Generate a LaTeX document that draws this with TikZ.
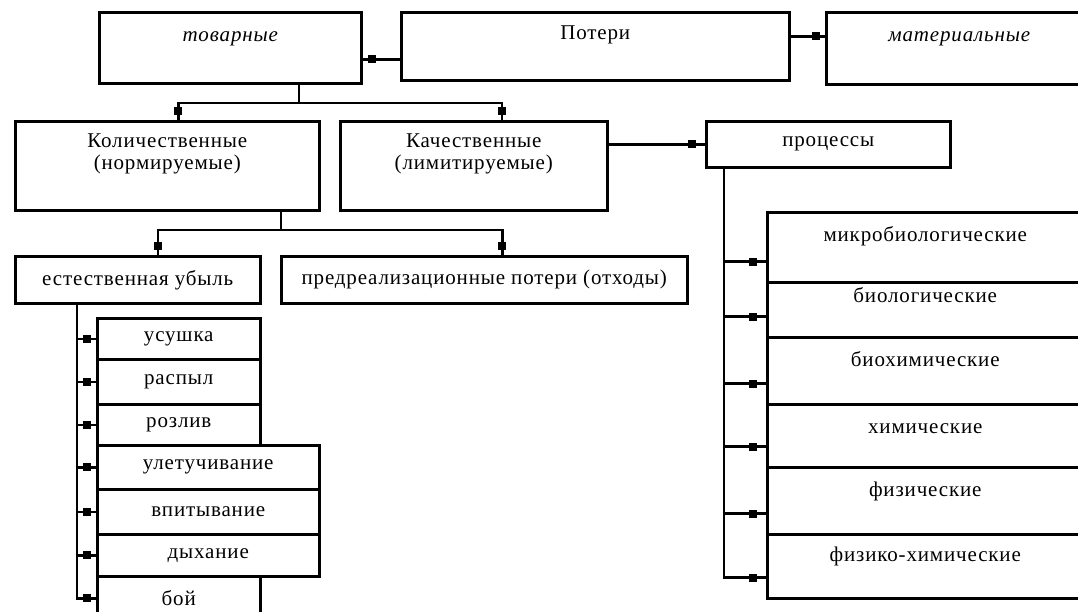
\documentclass[tikz,border=0pt]{standalone}
\usepackage{fontspec}
\setmainfont[LetterSpace=4]{Liberation Serif}
\usetikzlibrary{decorations.markings}

\begin{document}
\begin{tikzpicture}[x=1pt, y=-1pt, line width=2.5pt,
  box/.style={draw, anchor=north west, inner sep=0pt, align=center,
              font=\fontsize{21}{22}\selectfont},
  conn/.style={postaction={decorate}, decoration={markings,
              mark=at position -#1 with {\fill (-4pt,-4pt) rectangle (4pt,4pt);}}},
  conn/.default=9pt]
  % page = the scan, 1px = 1pt
  \useasboundingbox (0,0) rectangle (1078,611);

  % ---------- top row
  \node[box, minimum width=262pt, text height=29pt, text depth=42pt] (tov) at (98,11)  {\itshape товарные};
  \node[box, minimum width=388pt, text height=27pt, text depth=41pt] (pot) at (400,11) {Потери};
  \node[box, minimum width=266pt, text height=29pt, text depth=43pt] (mat) at (825,11) {\itshape материальные};

  % ---------- second row (two lines: height counts to the last baseline)
  \node[box, minimum width=304pt, text height=48pt, text depth=41pt] (kol)  at (14,120)  {Количественные\\(нормируемые)};
  \node[box, minimum width=267pt, text height=48pt, text depth=41pt] (kach) at (339,120) {Качественные\\(лимитируемые)};
  \node[box, minimum width=244pt, minimum height=46pt] (proc) at (705,120) {процессы};

  % ---------- third row
  \node[box, minimum width=245pt, minimum height=47pt] (est)  at (14,255)  {естественная убыль};
  \node[box, minimum width=406pt, minimum height=47pt] (pred) at (280,255) {предреализационные потери (отходы)};

  % ---------- kinds of natural loss (left column)
  \foreach \n/\y/\w/\h/\t in {usush/317/163/41/усушка, raspyl/358/163/45/распыл,
      rozliv/403/163/41/розлив, uletuch/444/222/44/улетучивание,
      vpit/488/222/45/впитывание, dyh/533/222/42/дыхание, boy/575/163/44/бой}
    \node[box, minimum width=\w pt, minimum height=\h pt] (\n) at (96,\y) {\t};

  % ---------- processes (right column, runs off the page)
  \foreach \n/\y/\th/\td/\t in {micro/211/29/41/микробиологические, bio/281/20/35/биологические,
      biochem/336/29/38/биохимические, chem/403/29/34/химические,
      fiz/466/29/38/физические, fizchem/533/27/37/физико-химические}
    \node[box, minimum width=316pt, text height=\th pt, text depth=\td pt] (\n) at (766,\y) {\t};

  % ---------- connectors
  \coordinate (pt) at ([yshift=-13pt]pot.west);
  \coordinate (pm) at ([yshift=10pt]pot.east);
  \draw[conn] (pt) -- (pt -| tov.east);
  \draw[conn] (pm) -- (pm -| mat.west);

  \coordinate (f1) at (299,103);
  \draw (tov.south -| f1) -- (f1);
  \draw[conn] (f1) -| ([xshift=11pt]kol.north);
  \draw[conn] (f1) -| ([xshift=28pt]kach.north);

  \coordinate (f2) at (281,230);
  \draw (kol.south -| f2) -- (f2);
  \draw[conn] (f2) -| ([xshift=20pt]est.north);
  \draw[conn] (f2) -| ([xshift=18pt]pred.north);

  \draw[conn=13pt] (proc.west -| kach.east) -- (proc.west);

  % left spine
  \coordinate (ls) at ([xshift=63pt]est.south west);
  \foreach \n in {usush,raspyl,rozliv,uletuch,vpit,dyh}
    \draw[conn] (ls |- \n.west) -- (\n.west);
  \draw[conn] (ls) |- (boy.west);

  % right spine
  \coordinate (rs) at ([xshift=19pt]proc.south west);
  \foreach \n in {micro,bio,biochem,chem,fiz,fizchem}
    \coordinate (\n-in) at ([yshift=22pt]\n.south west);
  \foreach \n in {micro,bio,biochem,chem,fiz}
    \draw[conn=13pt] (rs |- \n-in) -- (\n-in);
  \draw[conn=13pt] (rs) |- (fizchem-in);
\end{tikzpicture}
\end{document}
